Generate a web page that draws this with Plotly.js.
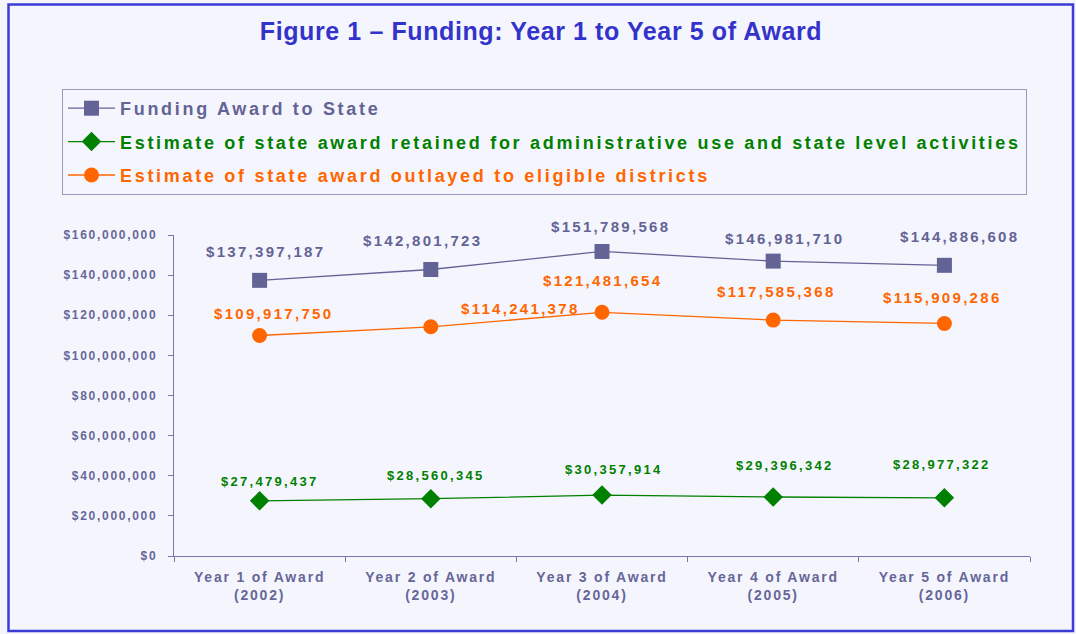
<!DOCTYPE html>
<html>
<head>
<meta charset="utf-8">
<script src="https://cdn.plot.ly/plotly-3.0.1.min.js"></script>
<style>
  html, body { margin: 0; padding: 0; background: #f5f6fd; }
  #chart { width: 1076px; height: 634px; }
  .legendtext { letter-spacing: 2.7px; }
  .annotation-text { letter-spacing: 2.3px; }
  .ytick text { letter-spacing: 1.7px; }
  .xtick text { letter-spacing: 1.8px; }
  .gtitle { letter-spacing: 0.6px; }
</style>
</head>
<body>
<div id="chart"></div>
<script>
// ---- data ----
const categories = [
  "Year 1 of Award<br>(2002)",
  "Year 2 of Award<br>(2003)",
  "Year 3 of Award<br>(2004)",
  "Year 4 of Award<br>(2005)",
  "Year 5 of Award<br>(2006)"
];
const fundingAward = [137397187, 142801723, 151789568, 146981710, 144886608];
const retainedAdmin = [27479437, 28560345, 30357914, 29396342, 28977322];
const outlayedDistricts = [109917750, 114241378, 121481654, 117585368, 115909286];
const seriesNames = [
  "Funding Award to State",
  "Estimate of state award retained for administrative use and state level activities",
  "Estimate of state award outlayed to eligible districts"
];

// ---- styles ----
const purple = "#636396";
const green = "#008000";
const orange = "#ff6600";
const FONT = "Liberation Sans, Arial, sans-serif";

// data-label placement nudges in pixels (labels were hand-placed in the original)
const labelNudge = {
  funding:   { dx: [6, -8, 8, 11, 15],  dy: [29, 29, 25, 23, 29] },
  outlayed:  { dx: [14, 90, 0, 3, -2],  dy: [22, 18, 32, 29, 26] },
  retained:  { dx: [10, 5, 12, 12, -2], dy: [19, 23, 26, 32, 33] }
};

function fmt(v) { return "$" + v.toLocaleString("en-US"); }

const traces = [
  {
    x: categories, y: fundingAward, name: '<span style="color:' + purple + '">' + seriesNames[0] + '</span>',
    legendgroup: "a", mode: "lines+markers", cliponaxis: false,
    line: { color: purple, width: 1.3 },
    marker: { symbol: "square", size: 15, color: purple }
  },
  {
    x: categories, y: retainedAdmin, name: '<span style="color:' + green + '">' + seriesNames[1] + '</span>',
    legendgroup: "b", mode: "lines+markers", cliponaxis: false,
    line: { color: green, width: 1.3 },
    marker: { symbol: "diamond", size: 15, color: green }
  },
  {
    x: categories, y: outlayedDistricts, name: '<span style="color:' + orange + '">' + seriesNames[2] + '</span>',
    legendgroup: "c", mode: "lines+markers", cliponaxis: false,
    line: { color: orange, width: 1.3 },
    marker: { symbol: "circle", size: 15, color: orange }
  }
];

const annotations = [];
function addLabels(vals, color, size, nudge) {
  vals.forEach((v, i) => {
    annotations.push({
      x: categories[i], y: v, xref: "x", yref: "y",
      text: "<b>" + fmt(v) + "</b>", showarrow: false, yanchor: "middle", xanchor: "center",
      xshift: nudge.dx[i], yshift: nudge.dy[i],
      font: { family: FONT, size: size, color: color }
    });
  });
}
addLabels(fundingAward, purple, 15, labelNudge.funding);
addLabels(outlayedDistricts, orange, 15, labelNudge.outlayed);
addLabels(retainedAdmin, green, 13, labelNudge.retained);

// plot area pixel geometry: x 174..1030, y 235..556
const L = 174, R = 1030, T = 235, B = 556;
const W = R - L, H = B - T;
const px = p => (p - L) / W;
const py = p => (B - p) / H;

const layout = {
  width: 1076, height: 634,
  margin: { l: L, r: 1076 - R, t: T, b: 634 - B },
  paper_bgcolor: "#f5f6fd",
  plot_bgcolor: "#f5f6fd",
  font: { family: FONT, color: "#666699" },
  title: {
    text: "<b>Figure 1 – Funding: Year 1 to Year 5 of Award</b>",
    font: { family: FONT, size: 25, color: "#3333cc" },
    x: 541 / 1076, xanchor: "center", xref: "container",
    y: 1 - 31 / 634, yanchor: "middle", yref: "container"
  },
  showlegend: true,
  legend: {
    x: px(62), y: py(89), xanchor: "left", yanchor: "top",
    bgcolor: "#f5f6fd", bordercolor: "#9a9abb", borderwidth: 1,
    font: { family: FONT, size: 18, weight: "bold", color: purple },
    traceorder: "grouped", tracegroupgap: 7, itemwidth: 47
  },
  xaxis: {
    type: "category", categoryorder: "array", categoryarray: categories,
    range: [-0.5, 4.5], tickson: "boundaries",
    ticks: "outside", ticklen: 5, tickcolor: "#7777aa",
    showline: true, linecolor: "#7777aa", linewidth: 1.3,
    showgrid: false, zeroline: false, fixedrange: true,
    ticklabelstandoff: 8,
    tickfont: { family: FONT, size: 14, color: "#666699", weight: "bold" }
  },
  yaxis: {
    range: [0, 160000000], dtick: 20000000, tick0: 0,
    tickprefix: "$", tickformat: ",.0f",
    ticks: "outside", ticklen: 5, tickcolor: "#7777aa",
    showline: true, linecolor: "#7777aa", linewidth: 1.3,
    showgrid: false, zeroline: false, fixedrange: true,
    ticklabelstandoff: 8,
    tickfont: { family: FONT, size: 12, color: "#666699", weight: "bold" }
  },
  annotations: annotations,
  shapes: [
    {
      type: "rect", xref: "paper", yref: "paper", layer: "above",
      x0: px(8.5), x1: px(1073), y0: py(631), y1: py(4.5),
      line: { color: "#3b3bd6", width: 2.5 }
    }
  ]
};

Plotly.newPlot("chart", traces, layout, { displayModeBar: false, staticPlot: true });
</script>
</body>
</html>
